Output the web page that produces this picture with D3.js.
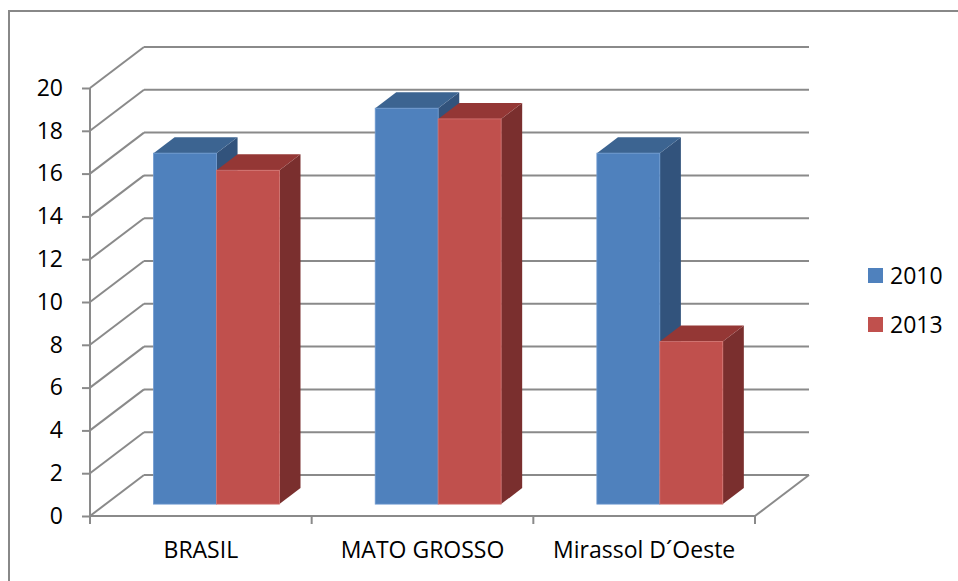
<!DOCTYPE html>
<html>
<head>
<meta charset="utf-8">
<script src="https://cdn.jsdelivr.net/npm/d3@7"></script>
<style>
  body { margin: 0; background: #fff; }
  text { font-family: "Open Sans", "Noto Sans", sans-serif; fill: #000; }
</style>
</head>
<body>
<div id="chart"></div>
<script>
// data
var categories = ["BRASIL", "MATO GROSSO", "Mirassol D\u00B4Oeste"];
var seriesNames = ["2010", "2013"];
var values2010 = [16.4, 18.5, 16.4];
var values2013 = [15.6, 18.0, 7.6];
var yTicks = [0, 2, 4, 6, 8, 10, 12, 14, 16, 18, 20];

var seriesValues = [values2010, values2013];
var colors = {
    "2010": { front: "#4F81BD", top: "#3C6491", side: "#32537C", edge: "#6f9ad0" },
    "2013": { front: "#C0504D", top: "#943735", side: "#7A2F2E", edge: "#d27471" }
};

var width = 958, height = 581;
var depthX = 54, depthY = -41; // full depth offset of the 3D box
var barZ0 = 0.29, barZ1 = 0.68;  // bar depth inside the box
var gridColor = "#8a8a8a";
var fontSize = "23px";

var svg = d3.select("#chart").append("svg")
    .attr("width", width)
    .attr("height", height);

// outer frame (only top and left are inside the picture)
svg.append("path")
    .attr("d", "M9," + (height + 5) + " V11 H" + (width + 5))
    .attr("fill", "none")
    .attr("stroke", "#888")
    .attr("stroke-width", 2);

var x0 = d3.scaleBand().domain(categories).range([90, 755]).padding(0);
var step = x0.step();
var x1 = d3.scaleBand().domain(seriesNames).range([step * 0.216, step * 0.784]).padding(0);
var y = d3.scaleLinear().domain([0, 20]).range([516, 88]);

function px(x, z) { return x + z * depthX; }
function py(yv, z) { return yv + z * depthY; }

var grid = svg.append("g");

// side wall diagonals and back wall gridlines
yTicks.forEach(function (t) {
    grid.append("line")
        .attr("x1", 90).attr("y1", y(t))
        .attr("x2", px(90, 1)).attr("y2", py(y(t), 1))
        .attr("stroke", gridColor).attr("stroke-width", 2);
    grid.append("line")
        .attr("x1", px(90, 1)).attr("y1", py(y(t), 1))
        .attr("x2", px(755, 1)).attr("y2", py(y(t), 1))
        .attr("stroke", gridColor).attr("stroke-width", 2);
});

// floor right edge
grid.append("line")
    .attr("x1", 755).attr("y1", y(0))
    .attr("x2", px(755, 1)).attr("y2", py(y(0), 1))
    .attr("stroke", gridColor).attr("stroke-width", 2);

// bars, left to right so right bars cover the side faces
var bars = svg.append("g");
categories.forEach(function (cat, i) {
    seriesNames.forEach(function (s, j) {
        var v = seriesValues[j][i];
        var xl = x0(cat) + x1(s);
        var xr = xl + x1.bandwidth();
        var yt = y(v), yb = y(0);
        var c = colors[s];

        var top = [[px(xl, barZ0), py(yt, barZ0)], [px(xr, barZ0), py(yt, barZ0)],
                   [px(xr, barZ1), py(yt, barZ1)], [px(xl, barZ1), py(yt, barZ1)]];
        var side = [[px(xr, barZ0), py(yt, barZ0)], [px(xr, barZ0), py(yb, barZ0)],
                    [px(xr, barZ1), py(yb, barZ1)], [px(xr, barZ1), py(yt, barZ1)]];

        bars.append("polygon")
            .attr("points", side.map(function (p) { return p.join(","); }).join(" "))
            .attr("fill", c.side);
        bars.append("polygon")
            .attr("points", top.map(function (p) { return p.join(","); }).join(" "))
            .attr("fill", c.top);
        bars.append("rect")
            .attr("x", px(xl, barZ0))
            .attr("y", py(yt, barZ0))
            .attr("width", xr - xl)
            .attr("height", yb - yt)
            .attr("fill", c.front)
            .attr("stroke", c.edge)
            .attr("stroke-width", 0.8);
    });
});

// y axis
var yAxis = svg.append("g")
    .attr("transform", "translate(90,0)")
    .call(d3.axisLeft(y).tickValues(yTicks).tickSize(8).tickPadding(19));
yAxis.select(".domain").remove();
yAxis.selectAll(".tick line").attr("stroke", gridColor).attr("stroke-width", 2);
yAxis.selectAll(".tick text").attr("font-size", fontSize).attr("font-family", "Open Sans");
svg.append("line")
    .attr("x1", 90).attr("y1", y(20)).attr("x2", 90).attr("y2", y(0))
    .attr("stroke", gridColor).attr("stroke-width", 2);

// x axis
svg.append("line")
    .attr("x1", 90).attr("y1", y(0)).attr("x2", 755).attr("y2", y(0))
    .attr("stroke", gridColor).attr("stroke-width", 2);
var edges = categories.map(function (c) { return x0(c); }).concat([x0.range()[1]]);
svg.selectAll(".xtick").data(edges).enter().append("line")
    .attr("x1", function (d) { return d; }).attr("x2", function (d) { return d; })
    .attr("y1", y(0)).attr("y2", y(0) + 8)
    .attr("stroke", gridColor).attr("stroke-width", 2);

var xAxis = svg.append("g")
    .attr("transform", "translate(0," + y(0) + ")")
    .call(d3.axisBottom(x0).tickSize(0).tickPadding(26));
xAxis.select(".domain").remove();
xAxis.selectAll(".tick text").attr("font-size", fontSize).attr("font-family", "Open Sans");

// legend
var legend = svg.append("g").attr("transform", "translate(868,268)");
seriesNames.forEach(function (s, j) {
    legend.append("rect")
        .attr("x", 0).attr("y", j * 49)
        .attr("width", 15).attr("height", 15)
        .attr("fill", colors[s].front);
    legend.append("text")
        .attr("x", 22).attr("y", j * 49 + 16)
        .attr("font-size", fontSize)
        .text(s);
});
</script>
</body>
</html>
